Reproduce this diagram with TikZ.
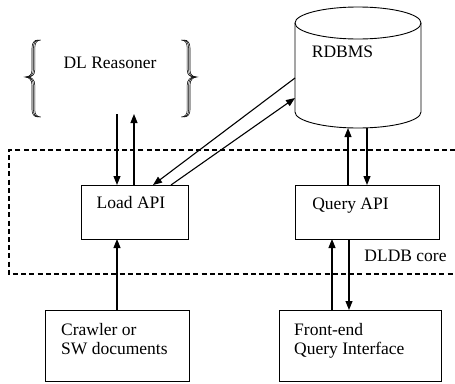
\documentclass[tikz,border=0pt]{standalone}
\usepackage{fontspec}
\setmainfont{Liberation Serif}
\usetikzlibrary{arrows.meta,calc}
\begin{document}
\begin{tikzpicture}[x=1pt,y=-1pt,
  box/.style={draw,line width=0.9pt,anchor=north west,inner sep=0pt,outer sep=0pt},
  ghost/.style={anchor=north west,inner sep=0pt,outer sep=0pt},
  lbl/.style={font=\fontsize{17.5}{19}\selectfont,inner sep=0pt,anchor=base},
  arr/.style={line width=1.1pt,-{Triangle[length=9pt,width=7pt]}},
  core/.style={line width=1.1pt,dash pattern=on 5pt off 3.2pt},
  bracestroke/.style={line width=0.55pt}]
\useasboundingbox[fill=white] (0,0) rectangle (455,383);

% dashed DLDB core frame
\draw[core] (455,150) -- (9,150) -- (9,274) -- (455,274);

% DL Reasoner (braces)
\node[ghost,minimum width=171pt,minimum height=74pt] (dl) at (26,40) {};
\foreach \s in {0,1.4,2.8}{
  \draw[bracestroke,xshift=\s] (38,40) .. controls (34,40) and (32,43) .. (32,48) -- (32,70)
      .. controls (32,75) and (29,77) .. (25,77)
      .. controls (29,77) and (32,80) .. (32,85) -- (32,110)
      .. controls (32,114) and (34,117) .. (38,117);
  \draw[bracestroke,xshift=-\s] (184,40) .. controls (188,40) and (190,43) .. (190,48) -- (190,70)
      .. controls (190,75) and (193,77) .. (197,77)
      .. controls (193,77) and (190,80) .. (190,85) -- (190,110)
      .. controls (190,114) and (188,117) .. (184,117);
}
\node[lbl] (dltext) at (110,68) {DL Reasoner};

% RDBMS cylinder
\draw[line width=0.9pt,fill=white] (295,23) -- (295,112)
   arc[start angle=180,end angle=0,x radius=63,y radius=16] -- (421,23);
\draw[line width=0.9pt] (358,23) ellipse[x radius=63,y radius=16];
\node[ghost,minimum width=126pt,minimum height=105pt] (rdbms) at (295,23) {};
\node[lbl] (rdbmstext) at (342.5,57) {RDBMS};
\coordinate (dbA) at (295,78);
\coordinate (dbB) at (295,98);
\coordinate (dbC) at (348,128);
\coordinate (dbD) at (367,128);

% boxes
\node[box,minimum width=107pt,minimum height=54pt] (load) at (81,185) {};
\node[lbl] (loadtext) at (131,208) {Load API};
\node[box,minimum width=144pt,minimum height=54pt] (query) at (295,185) {};
\node[lbl] (querytext) at (350.5,209) {Query API};
\node[lbl] (coretext) at (405.5,261) {DLDB core};
\node[box,minimum width=144pt,minimum height=71pt] (crawler) at (45,310) {};
\node[lbl,anchor=base west,align=left] (crawlertext) at (61,354) {Crawler or\\SW documents};
\node[box,minimum width=162pt,minimum height=71pt] (front) at (279,310) {};
\node[lbl,anchor=base west,align=left] (fronttext) at (294,354) {Front-end\\Query Interface};

% connectors
\draw[arr] (dl.south -| 117,0) -- ([xshift=36pt]load.north west);
\draw[arr] ([xshift=53pt]load.north west) -- (dl.south -| 134,0);
\draw[arr] (dbA) -- ([xshift=72pt]load.north west);
\draw[arr] ([xshift=90pt]load.north west) -- (dbB);
\draw[arr] ([xshift=53pt]query.north west) -- (dbC);
\draw[arr] (dbD) -- ([xshift=72pt]query.north west);
\draw[arr] ([xshift=53pt]front.north west) -- ([xshift=37pt]query.south west);
\draw[arr] ([xshift=54pt]query.south west) -- ([xshift=70pt]front.north west);
\draw[arr] ([xshift=72pt]crawler.north west) -- ([xshift=36pt]load.south west);
\end{tikzpicture}
\end{document}
